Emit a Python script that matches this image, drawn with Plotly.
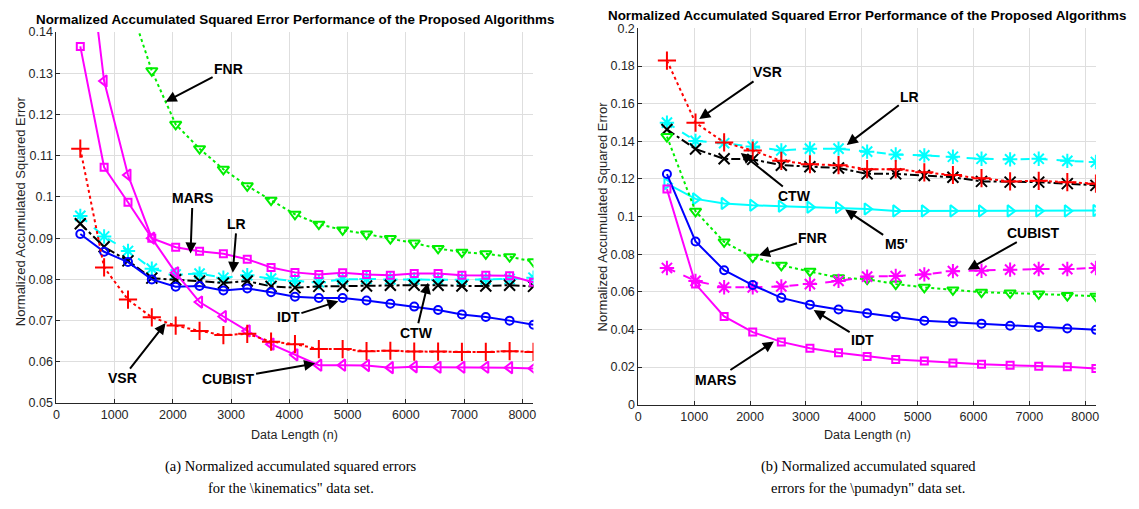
import plotly.graph_objects as go

# ---------------- data: kinematics (left) ----------------
n_kin = [410, 819, 1229, 1638, 2048, 2458, 2867, 3277, 3686, 4096,
         4506, 4915, 5325, 5734, 6144, 6554, 6963, 7373, 7782, 8192]
fnr_kin = [0.190, 0.165, 0.148, 0.1306, 0.1176, 0.1117, 0.1067, 0.1027, 0.0992, 0.0958,
           0.0934, 0.0920, 0.0910, 0.0899, 0.0888, 0.0875, 0.0866, 0.0862, 0.0855, 0.0843]
mars_kin = [0.1365, 0.1072, 0.0987, 0.0900, 0.0878, 0.0868, 0.0862, 0.0849, 0.0829, 0.0817,
            0.0812, 0.0816, 0.0812, 0.0810, 0.0814, 0.0814, 0.0810, 0.0810, 0.0809, 0.0793]
cubist_kin = [0.176, 0.1281, 0.1053, 0.0900, 0.0816, 0.0745, 0.0710, 0.0675, 0.0643, 0.0617,
              0.0592, 0.0592, 0.0591, 0.0586, 0.0588, 0.0587, 0.0587, 0.0587, 0.0586, 0.0584]
vsr_kin = [0.1117, 0.0829, 0.0751, 0.0708, 0.0688, 0.0675, 0.0665, 0.0668, 0.0649, 0.0643,
           0.0631, 0.0631, 0.0626, 0.0627, 0.0625, 0.0625, 0.0624, 0.0624, 0.0626, 0.0624]
lr_kin = [0.0954, 0.0904, 0.0869, 0.0826, 0.0812, 0.0814, 0.0804, 0.0810, 0.0802, 0.0796,
          0.0793, 0.0800, 0.0801, 0.0800, 0.0800, 0.0799, 0.0799, 0.0800, 0.0801, 0.0804]
ctw_kin = [0.0935, 0.0879, 0.0845, 0.0803, 0.0799, 0.0796, 0.0791, 0.0796, 0.0783, 0.0780,
           0.0783, 0.0784, 0.0784, 0.0786, 0.0786, 0.0786, 0.0784, 0.0784, 0.0786, 0.0783]
idt_kin = [0.0910, 0.0867, 0.0842, 0.0800, 0.0782, 0.0784, 0.0773, 0.0778, 0.0769, 0.0758,
           0.0755, 0.0755, 0.0749, 0.0741, 0.0734, 0.0726, 0.0715, 0.0709, 0.0700, 0.0690]

# ---------------- data: pumadyn (right) ----------------
n_pum = [512, 1024, 1536, 2048, 2560, 3072, 3584, 4096,
         4608, 5120, 5632, 6144, 6656, 7168, 7680, 8192]
vsr_pum = [0.1829, 0.1499, 0.1394, 0.1351, 0.1296, 0.1278, 0.1273, 0.1252,
           0.1252, 0.1235, 0.1221, 0.1204, 0.1187, 0.1190, 0.1183, 0.1175]
lr_pum = [0.1499, 0.1402, 0.1390, 0.1373, 0.1352, 0.1361, 0.1361, 0.1345,
          0.1330, 0.1325, 0.1318, 0.1307, 0.1304, 0.1307, 0.1296, 0.1290]
ctw_pum = [0.1463, 0.1359, 0.1307, 0.1304, 0.1273, 0.1265, 0.1258, 0.1227,
           0.1227, 0.1218, 0.1209, 0.1187, 0.1183, 0.1183, 0.1175, 0.1166]
m5_pum = [0.1175, 0.1094, 0.1070, 0.1060, 0.1055, 0.1050, 0.1048, 0.1040,
          0.1030, 0.1030, 0.1030, 0.1030, 0.1030, 0.1030, 0.1030, 0.1032]
fnr_pum = [0.1425, 0.1028, 0.0865, 0.0784, 0.0741, 0.0710, 0.0675, 0.0667,
           0.0641, 0.0624, 0.0610, 0.0598, 0.0594, 0.0589, 0.0580, 0.0577]
cubist_pum = [0.0727, 0.0658, 0.0624, 0.0624, 0.0629, 0.0641, 0.0658, 0.0681,
              0.0684, 0.0693, 0.0710, 0.0712, 0.0718, 0.0721, 0.0721, 0.0727]
idt_pum = [0.1226, 0.0868, 0.0715, 0.0636, 0.0568, 0.0532, 0.0506, 0.0486,
           0.0469, 0.0446, 0.0439, 0.0431, 0.0420, 0.0413, 0.0405, 0.0398]
mars_pum = [0.1146, 0.0641, 0.0469, 0.0386, 0.0334, 0.0300, 0.0276, 0.0257,
            0.0241, 0.0233, 0.0222, 0.0215, 0.0210, 0.0205, 0.0202, 0.0193]

title_text = "Normalized Accumulated Squared Error Performance of the Proposed Algorithms"
ytitle = "Normalized Accumulated Squared Error"
xtitle = "Data Length (n)"

MAG, GRN, RED, CYN, BLK, BLU = "#FF00FF", "#00EE00", "#FF0000", "#00FFFF", "#000000", "#0000FF"

fig = go.Figure()


def add(x, y, color, dash, symbol, size, xa, ya, lw=2):
    fig.add_trace(go.Scatter(
        x=x, y=y, mode="lines+markers", xaxis=xa, yaxis=ya, showlegend=False,
        line=dict(color=color, width=lw, dash=dash),
        marker=dict(symbol=symbol, size=size, color=color,
                    line=dict(color=color, width=2)),
        cliponaxis=True))


# left
add(n_kin, fnr_kin, GRN, "dot", "triangle-down-open", 10, "x", "y")
add(n_kin, lr_kin, CYN, "dash", "asterisk-open", 12, "x", "y")
add(n_kin, ctw_kin, BLK, "dashdot", "x-thin-open", 11, "x", "y")
add(n_kin, idt_kin, BLU, "solid", "circle-open", 8, "x", "y")
add(n_kin, mars_kin, MAG, "solid", "square-open", 7, "x", "y")
add(n_kin, cubist_kin, MAG, "solid", "triangle-left-open", 10, "x", "y")
add(n_kin, vsr_kin, RED, "dot", "cross-thin-open", 13, "x", "y")

# right
add(n_pum, lr_pum, CYN, "dash", "asterisk-open", 12, "x2", "y2")
add(n_pum, ctw_pum, BLK, "dashdot", "x-thin-open", 11, "x2", "y2")
add(n_pum, vsr_pum, RED, "dot", "cross-thin-open", 13, "x2", "y2")
add(n_pum, m5_pum, CYN, "solid", "triangle-right-open", 10, "x2", "y2")
add(n_pum, fnr_pum, GRN, "dot", "triangle-down-open", 10, "x2", "y2")
add(n_pum, cubist_pum, MAG, "dash", "asterisk-open", 12, "x2", "y2")
add(n_pum, idt_pum, BLU, "solid", "circle-open", 8, "x2", "y2")
add(n_pum, mars_pum, MAG, "solid", "square-open", 7, "x2", "y2")

W, H = 1139, 509
TICKF = dict(family="Liberation Sans, Arial", size=12.5, color="#262626")
axcommon = dict(showgrid=True, gridcolor="#DEDEDE", gridwidth=1, zeroline=False,
                showline=True, linecolor="#262626", linewidth=1, mirror=False,
                ticks="inside", ticklen=4, tickcolor="#262626", tickfont=TICKF)

fig.update_layout(
    width=W, height=H, margin=dict(l=0, r=0, t=0, b=0),
    paper_bgcolor="white", plot_bgcolor="white",
    xaxis=dict(domain=[53.7 / W, 533.3 / W], range=[0, 8192], dtick=1000, tick0=0,
               anchor="y", **axcommon),
    yaxis=dict(domain=[1 - 407.3 / H, 1 - 25.7 / H], range=[0.05, 0.14], dtick=0.01,
               tick0=0.05, anchor="x", **axcommon),
    xaxis2=dict(domain=[638.7 / W, 1098.7 / W], range=[0, 8192], dtick=1000, tick0=0,
                anchor="y2", **axcommon),
    yaxis2=dict(domain=[1 - 409 / H, 1 - 22 / H], range=[0, 0.2], dtick=0.02,
                tick0=0, anchor="x2", **axcommon),
)

ann = []
LBL = dict(family="Liberation Sans, Arial", size=14, color="black")


def arrow(xr, yr, x, y, text, ax, ay):
    ann.append(dict(xref=xr, yref=yr, x=x, y=y, text="<b>%s</b>" % text, showarrow=True,
                    ax=ax, ay=ay, arrowhead=2, arrowsize=1.1, arrowwidth=2,
                    arrowcolor="black", font=LBL))


# left annotations
arrow("x", "y", 1875, 0.1231, "FNR", 63, -33)
arrow("x", "y", 2303, 0.0863, "MARS", 2, -55)
arrow("x", "y", 3028, 0.0816, "LR", 4, -49)
arrow("x", "y", 4842, 0.0747, "IDT", -50, 16)
arrow("x", "y", 6381, 0.0792, "CTW", -12, 50)
arrow("x", "y", 1875, 0.0694, "VSR", -43, 55)
arrow("x", "y", 4442, 0.0596, "CUBIST", -87, 15)
# right annotations
arrow("x2", "y2", 1091, 0.1519, "VSR", 68, -47)
arrow("x2", "y2", 3732, 0.1381, "LR", 63, -48)
arrow("x2", "y2", 1834, 0.1338, "CTW", 54, 43)
arrow("x2", "y2", 3703, 0.1037, "M5'", 51, 34)
arrow("x2", "y2", 2160, 0.0795, "FNR", 54, -17)
arrow("x2", "y2", 5898, 0.0718, "CUBIST", 66, -37)
arrow("x2", "y2", 3139, 0.0503, "IDT", 49, 30)
arrow("x2", "y2", 2427, 0.0336, "MARS", -58, 38)


def ptext(xpx, ypx, text, font, angle=0):
    ann.append(dict(xref="paper", yref="paper", x=xpx / W, y=1 - ypx / H, text=text,
                    showarrow=False, xanchor="center", yanchor="middle",
                    textangle=angle, font=font))


TF = dict(family="Liberation Sans, Arial", size=13.4, color="black")
AF = dict(family="Liberation Sans, Arial", size=12.5, color="#262626")
YF = dict(family="Liberation Sans, Arial", size=13, color="#262626")
CF = dict(family="Liberation Serif, Times New Roman", size=14.5, color="black")

ptext(293.5, 13, "<b>%s</b>" % title_text, TF)
ptext(868.7, 9, "<b>%s</b>" % title_text, TF)
ptext(293.5, 440, xtitle, AF)
ptext(868.7, 440, xtitle, AF)
ptext(17, 210, ytitle, YF, -90)
ptext(603, 215.5, ytitle, YF, -90)
ptext(290, 472, "(a) Normalized accumulated squared errors", CF)
ptext(290, 495, 'for the \\kinematics" data set.', CF)
ptext(870, 472, "(b) Normalized accumulated squared", CF)
ptext(870, 495, 'errors for the \\pumadyn" data set.', CF)

fig.update_layout(annotations=ann)
fig.write_html("out.html")
